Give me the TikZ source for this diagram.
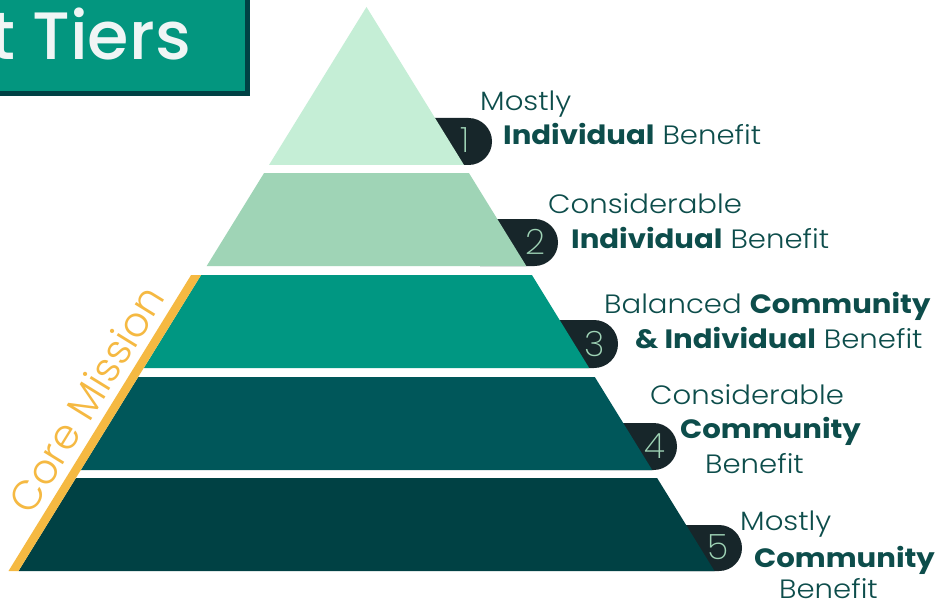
\documentclass[tikz,border=0pt]{standalone}
\usepackage{fontspec}
\setmainfont{Poppins}[UprightFont=* Light, BoldFont=* SemiBold]
\newfontfamily\lblf{Poppins}[UprightFont=* Light, BoldFont=* Bold, FakeStretch=1.10]
\newfontfamily\titlef{Poppins}[UprightFont=* Medium]
\newfontfamily\numf{Poppins}[UprightFont=* ExtraLight]
\definecolor{tA}{HTML}{C5EED6}
\definecolor{tB}{HTML}{9FD4B6}
\definecolor{tC}{HTML}{009782}
\definecolor{tD}{HTML}{00575A}
\definecolor{tE}{HTML}{004144}
\definecolor{badge}{HTML}{17262A}
\definecolor{txt}{HTML}{0D4D4B}
\definecolor{gold}{HTML}{F5B942}
\definecolor{titlebg}{HTML}{03967F}
\definecolor{titletxt}{HTML}{F0F5F5}
\begin{document}
\begin{tikzpicture}[x=1pt,y=-1pt,
  lbl/.style={anchor=base west,inner sep=0pt,text=txt,font=\lblf\fontsize{26.5}{30}\selectfont},
  num/.style={anchor=base,inner sep=0pt,text=tB,font=\numf\fontsize{35}{36}\selectfont},
  badgefill/.style={fill=badge}]
\useasboundingbox (0,0) rectangle (949,604);
\fill[white] (0,0) rectangle (949,604);
% title box
\fill[titlebg,draw=tE,line width=5pt] (-20,-20) rectangle (247,94);
\node[anchor=base east,inner sep=0pt,text=titletxt,font=\titlef\fontsize{67}{70}\selectfont] (title) at (191,60) {t Tiers};
% badges
\fill[badgefill] (420,118) -- (468.5,118) arc[start angle=90,end angle=-90,x radius=23.5,y radius=-23.5] -- (420,165) -- cycle;
\fill[badgefill] (480,219) -- (534.5,219) arc[start angle=90,end angle=-90,x radius=23.5,y radius=-23.5] -- (480,266) -- cycle;
\fill[badgefill] (540,320) -- (594,320) arc[start angle=90,end angle=-90,x radius=24,y radius=-24] -- (540,368) -- cycle;
\fill[badgefill] (600,423) -- (653.5,423) arc[start angle=90,end angle=-90,x radius=23.5,y radius=-23.5] -- (600,470) -- cycle;
\fill[badgefill] (660,525) -- (719,525) arc[start angle=90,end angle=-90,x radius=23,y radius=-23] -- (660,571) -- cycle;
% tiers
\fill[tA] (366.5,7) -- (464,165) -- (269,165) -- cycle;
\fill[tB] (264.1,173) -- (468.9,173) -- (526.3,266) -- (206.7,266) -- cycle;
\fill[tC] (201.1,275) -- (531.9,275) -- (589.2,368) -- (143.8,368) -- cycle;
\fill[tD] (138.2,377) -- (594.8,377) -- (652.2,470) -- (80.8,470) -- cycle;
\fill[tE] (75.9,478) -- (657.1,478) -- (714.5,571) -- (18.5,571) -- cycle;
% core mission stripe
\fill[gold] (191.1,275) -- (201.1,275) -- (18.5,571) -- (8.5,571) -- cycle;
\node[anchor=base,inner sep=0pt,rotate=58.3,text=gold,font=\fontsize{41}{44}\selectfont] (core) at (99,407) {Core Mission};
% numbers
\node[num] (n1) at (465,153) {1};
\node[num] (n2) at (535,254) {2};
\node[num] (n3) at (595,356) {3};
\node[num] (n4) at (655,458) {4};
\node[num] (n5) at (718,559) {5};
% labels
\node[lbl] (l1a) at (480,111) {Mostly};
\node[lbl] (l1b) at (503,145) {\textbf{Individual} Benefit};
\node[lbl] (l2a) at (548,213) {Considerable};
\node[lbl] (l2b) at (571,248) {\textbf{Individual} Benefit};
\node[lbl] (l3a) at (604,313) {Balanced \textbf{Community}};
\node[lbl] (l3b) at (635,348) {\textbf{\& Individual} Benefit};
\node[lbl] (l4a) at (650,404) {Considerable};
\node[lbl] (l4b) at (680,438) {\textbf{Community}};
\node[lbl] (l4c) at (705,473) {Benefit};
\node[lbl] (l5a) at (740,530) {Mostly};
\node[lbl] (l5b) at (754,567) {\textbf{Community}};
\node[lbl] (l5c) at (779,598) {Benefit};
\end{tikzpicture}
\end{document}
